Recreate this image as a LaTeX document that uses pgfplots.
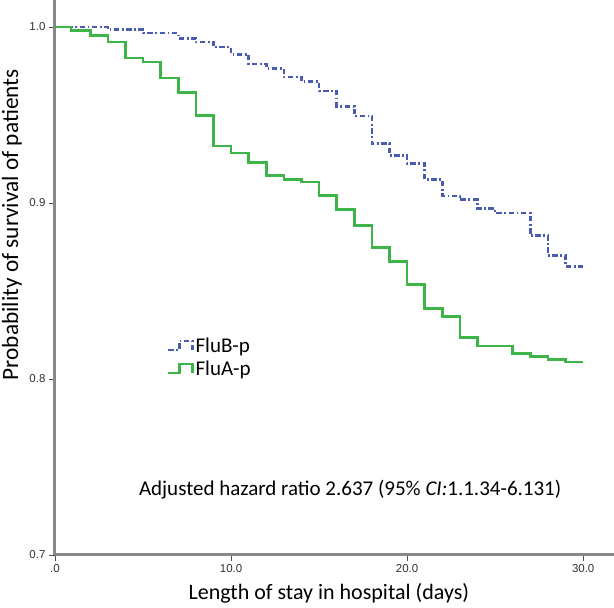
\documentclass[border=0pt]{standalone}
\usepackage{fontspec}
\setmainfont{Carlito}
\newfontfamily\arial{Liberation Sans}
\usepackage{pgfplots}
\pgfplotsset{compat=1.18}
\definecolor{flua}{RGB}{62,181,72}
\definecolor{flub}{RGB}{74,92,176}
\definecolor{axgray}{RGB}{135,135,135}
\begin{document}
\begin{tikzpicture}
\begin{axis}[
  name=ax,
  at={(0,0)}, anchor=south west,
  scale only axis,
  width=559pt, height=555pt,
  xmin=0, xmax=31.75, ymin=0.7, ymax=1.0153,
  axis lines*=left,
  axis line style={draw=axgray, line width=3pt},
  every inner x axis line/.append style={draw=axgray, line width=3pt},
  every inner y axis line/.append style={draw=axgray, line width=3pt},
  every outer x axis line/.append style={draw=axgray, line width=3pt},
  every outer y axis line/.append style={draw=axgray, line width=3pt},
  xtick={0,10,20,30}, xticklabels={.0,10.0,20.0,30.0},
  ytick={0.7,0.8,0.9,1.0}, yticklabels={0.7,0.8,0.9,1.0},
  tick align=outside, major tick length=6pt,
  tick style={black!70, line width=0.7pt},
  ticklabel style={font=\arial\fontsize{11.5}{13}\selectfont, text=black!80},
  /pgf/number format/assume math mode=true,
  xlabel={Length of stay in hospital (days)},
  ylabel={Probability of survival of patients},
  xlabel style={font=\fontsize{22}{26}\selectfont, at={(axis description cs:0.49,0)}, anchor=center, yshift=-38pt},
  ylabel style={font=\fontsize{23.3}{27}\selectfont, at={(axis description cs:0,0.595)}, anchor=center, yshift=43pt},
  legend style={draw=none, fill=none, at={(axis description cs:0.2,0.395)}, anchor=north west,
    font=\fontsize{21}{25}\selectfont, row sep=3pt, inner sep=0pt},
  legend cell align=left,
  legend image code/.code={\draw[#1] (0pt,-4pt) -- (11pt,-4pt) -- (11pt,5pt) -- (24pt,5pt) -- (24pt,-4pt);},
  clip=false,
]
\addplot[const plot, flub, line width=2.6pt, dash pattern=on 5.5pt off 2.5pt on 1.8pt off 2.5pt] coordinates {
(0,1.000) (3,0.9985) (5,0.9965) (7,0.9935) (8,0.9915) (9,0.9885) (10,0.9845)
(11,0.979) (12,0.9765) (13,0.9715) (14,0.969) (15,0.9636) (16,0.9549) (17,0.9494)
(18,0.9337) (19,0.9271) (20,0.9223) (21,0.9133) (22,0.904) (23,0.9019) (24,0.8968)
(25,0.8943) (27,0.8816) (28,0.8703) (29,0.864) (30,0.864)
};
\addlegendentry{FluB-p}
\addplot[const plot, flua, line width=2.6pt] coordinates {
(0,1.000) (0.9,0.998) (2,0.995) (3,0.9915) (4,0.9824) (5,0.980) (6,0.971)
(7,0.9627) (8,0.9498) (9,0.9324) (10,0.9284) (11,0.923) (12,0.9157) (13,0.9133)
(14,0.9118) (15,0.9044) (16,0.8962) (17,0.8873) (18,0.8746) (19,0.8669) (20,0.8538)
(21,0.840) (22,0.8356) (23,0.8235) (24,0.8188) (26,0.8144) (27,0.8129) (28,0.8112)
(29,0.8097) (30,0.8097)
};
\addlegendentry{FluA-p}
\node[font=\fontsize{21}{25}\selectfont, anchor=center] at (axis description cs:0.528,0.117)
  {Adjusted hazard ratio 2.637 (95\% \textit{CI:}1.1.34-6.131)};
\end{axis}
\pgfresetboundingbox
\path[use as bounding box] ([xshift=-55pt,yshift=-53pt]ax.south west) rectangle ([xshift=559pt,yshift=555pt]ax.south west);
\end{tikzpicture}
\end{document}
